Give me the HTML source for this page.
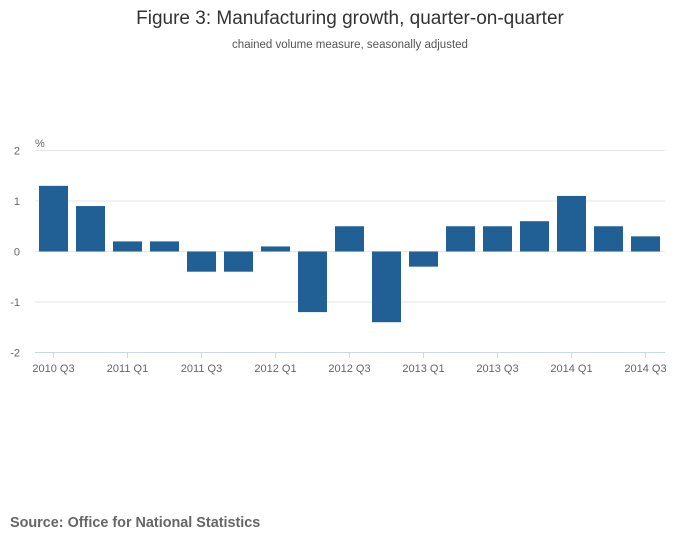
<!DOCTYPE html>
<html><head><meta charset="utf-8"><style>
body{margin:0;background:#fff;font-family:"Liberation Sans",sans-serif;}
</style></head><body>
<svg width="700" height="549" xmlns="http://www.w3.org/2000/svg">
<text x="350" y="24" text-anchor="middle" font-size="19" fill="#333">Figure 3: Manufacturing growth, quarter-on-quarter</text>
<text x="350" y="48" text-anchor="middle" font-size="11.5" fill="#555">chained volume measure, seasonally adjusted</text>
<text x="35" y="147" font-size="11" fill="#666">%</text>
<g id="grid"></g><g id="bars"></g><g id="xaxis"></g>
<text x="10" y="527" font-size="14.4" font-weight="bold" fill="#666">Source: Office for National Statistics</text>
</svg>
<script>
const categories=["2010 Q3","2010 Q4","2011 Q1","2011 Q2","2011 Q3","2011 Q4","2012 Q1","2012 Q2","2012 Q3","2012 Q4","2013 Q1","2013 Q2","2013 Q3","2013 Q4","2014 Q1","2014 Q2","2014 Q3"];
const values=[1.3,0.9,0.2,0.2,-0.4,-0.4,0.1,-1.2,0.5,-1.4,-0.3,0.5,0.5,0.6,1.1,0.5,0.3];
const yTicks=[2,1,0,-1,-2];
const NS="http://www.w3.org/2000/svg";
const left=35,right=664,slot=(right-left)/categories.length,bw=29;
const y=v=>251.5-v*50.5;
const xc=i=>left+slot*(i+0.5);
function mk(t,a,p){const e=document.createElementNS(NS,t);for(const k in a)e.setAttribute(k,a[k]);p.appendChild(e);return e;}
const grid=document.getElementById('grid'),bars=document.getElementById('bars'),xa=document.getElementById('xaxis');
yTicks.forEach(v=>{
 const l=mk('line',{x1:left,x2:right+1,y1:y(v),y2:y(v),stroke:v===-2?'#ccd6eb':'#e6e6e6','stroke-width':1},grid);
 
 
 const t=mk('text',{x:20,y:y(v)+4,'text-anchor':'end','font-size':11,fill:'#666'},grid);
 t.textContent=v;
 
 
});
values.forEach((v,i)=>{
 const r=mk('rect',{x:xc(i)-bw/2,y:Math.min(y(v),y(0)),width:bw,height:Math.abs(y(v)-y(0)),fill:'#206095'},bars);
 
 
});
categories.forEach((c,i)=>{
 if(i%2)return;
 const tk=mk('line',{x1:xc(i),x2:xc(i),y1:352,y2:358,stroke:'#ccd6eb'},xa);
 
 
 const t=mk('text',{x:xc(i),y:372,'text-anchor':'middle','font-size':11,fill:'#666'},xa);
 t.textContent=c;
 
 
});
</script>
</body></html>
